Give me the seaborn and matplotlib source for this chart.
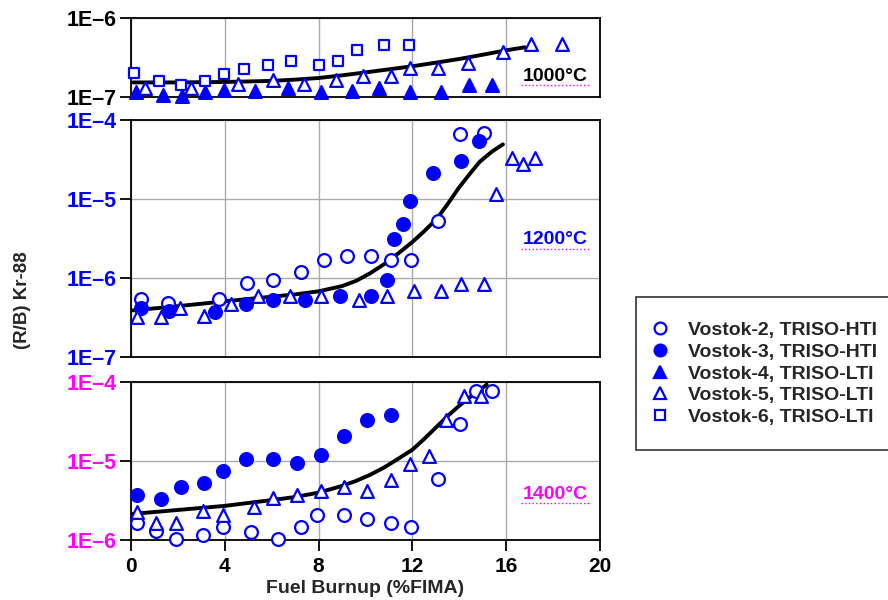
'''
Kr-88 release-rate-to-birth-rate ratio vs fuel burnup, three irradiation temperatures.
'''
import matplotlib
matplotlib.use('Agg')
import matplotlib.pyplot as plt
from matplotlib.lines import Line2D
import pandas as pd
import seaborn as sns

# ---- 1000 C ----
t1000_v4_x = [0.23, 1.37, 2.17, 3.16, 3.98, 5.28, 6.71, 8.09, 9.44, 10.58, 11.91, 13.23, 14.42, 15.4]
t1000_v4_y = [1.15e-7, 1.07e-7, 1.02e-7, 1.15e-7, 1.21e-7, 1.18e-7, 1.3e-7, 1.16e-7, 1.18e-7, 1.3e-7,
              1.15e-7, 1.15e-7, 1.43e-7, 1.43e-7]
t1000_v5_x = [0.58, 2.58, 4.55, 6.07, 7.37, 8.74, 9.89, 11.08, 11.91, 13.08, 14.39, 15.87, 17.04, 18.39]
t1000_v5_y = [1.3e-7, 1.3e-7, 1.47e-7, 1.66e-7, 1.47e-7, 1.66e-7, 1.86e-7, 1.86e-7, 2.35e-7, 2.35e-7,
              2.69e-7, 3.67e-7, 4.73e-7, 4.73e-7]
t1000_v6_x = [0.15, 1.18, 2.15, 3.16, 3.98, 4.83, 5.84, 6.83, 8.01, 8.83, 9.65, 10.8, 11.84]
t1000_v6_y = [2.0e-7, 1.58e-7, 1.42e-7, 1.6e-7, 1.97e-7, 2.26e-7, 2.54e-7, 2.83e-7, 2.52e-7, 2.83e-7,
              3.97e-7, 4.5e-7, 4.5e-7]
t1000_fit_x = [0.1, 2, 4, 6, 7, 8, 9, 10, 11, 12, 13, 14, 15, 16, 16.8]
t1000_fit_y = [1.53e-7, 1.53e-7, 1.55e-7, 1.6e-7, 1.66e-7, 1.74e-7, 1.88e-7, 2.05e-7, 2.24e-7, 2.45e-7,
               2.72e-7, 3.03e-7, 3.43e-7, 3.9e-7, 4.26e-7]

# ---- 1200 C ----
t1200_v2_x = [0.42, 1.58, 3.76, 4.95, 6.07, 7.25, 8.25, 9.23, 10.23, 11.08, 11.93, 13.08, 14.05, 15.05]
t1200_v2_y = [5.36e-7, 4.78e-7, 5.36e-7, 8.65e-7, 9.45e-7, 1.19e-6, 1.68e-6, 1.9e-6, 1.9e-6, 1.68e-6,
              1.68e-6, 5.28e-6, 6.71e-5, 6.84e-5]
t1200_v3_x = [0.42, 1.61, 3.58, 4.92, 6.07, 7.4, 8.92, 10.23, 10.9, 11.23, 11.61, 11.91, 12.88, 14.07, 14.84]
t1200_v3_y = [4.2e-7, 3.78e-7, 3.7e-7, 4.63e-7, 5.21e-7, 5.26e-7, 5.91e-7, 5.91e-7, 9.33e-7, 3.09e-6,
              4.8e-6, 9.48e-6, 2.13e-5, 3.05e-5, 5.42e-5]
t1200_v5_x = [0.27, 1.26, 2.09, 3.1, 4.25, 5.43, 6.77, 8.09, 9.74, 10.9, 12.06, 13.23, 14.08, 15.05,
              15.57, 16.24, 16.72, 17.22]
t1200_v5_y = [3.2e-7, 3.2e-7, 4.17e-7, 3.3e-7, 4.63e-7, 5.91e-7, 5.91e-7, 5.91e-7, 5.31e-7, 5.91e-7,
              6.77e-7, 6.77e-7, 8.47e-7, 8.47e-7, 1.17e-5, 3.33e-5, 2.74e-5, 3.33e-5]
t1200_fit_x = [0.08, 2, 3.98, 6, 7, 8.0, 9, 9.6, 10.2, 10.8, 11.4, 12.0, 12.5, 13.05, 13.5, 13.96,
               14.4, 14.87, 15.4, 15.86]
t1200_fit_y = [3.89e-7, 4.4e-7, 5.06e-7, 5.8e-7, 6.2e-7, 6.78e-7, 7.9e-7, 9.2e-7, 1.15e-6, 1.5e-6,
               2.05e-6, 2.86e-6, 3.9e-6, 5.66e-6, 8.6e-6, 1.36e-5, 2.0e-5, 2.96e-5, 4.0e-5, 4.91e-5]

# ---- 1400 C ----
t1400_v2_x = [0.24, 1.06, 1.91, 3.07, 3.92, 5.1, 6.25, 7.25, 7.92, 9.07, 10.08, 11.08, 11.93, 13.08,
              14.05, 14.72, 15.39]
t1400_v2_y = [1.66e-6, 1.31e-6, 1.04e-6, 1.17e-6, 1.48e-6, 1.25e-6, 1.04e-6, 1.48e-6, 2.07e-6, 2.07e-6,
              1.85e-6, 1.66e-6, 1.48e-6, 5.94e-6, 2.96e-5, 7.62e-5, 7.62e-5]
t1400_v3_x = [0.24, 1.27, 2.12, 3.1, 3.92, 4.92, 6.07, 7.07, 8.09, 9.07, 10.08, 11.08]
t1400_v3_y = [3.72e-6, 3.34e-6, 4.66e-6, 5.24e-6, 7.5e-6, 1.06e-5, 1.06e-5, 9.4e-6, 1.19e-5, 2.08e-5,
              3.33e-5, 3.78e-5]
t1400_v5_x = [0.24, 1.06, 1.91, 3.07, 3.92, 5.25, 6.07, 7.07, 8.09, 9.07, 10.08, 11.08, 11.91, 12.72,
              13.43, 14.22, 14.93]
t1400_v5_y = [2.29e-6, 1.66e-6, 1.66e-6, 2.36e-6, 2.07e-6, 2.65e-6, 3.38e-6, 3.72e-6, 4.19e-6, 4.66e-6,
              4.19e-6, 5.77e-6, 9.2e-6, 1.16e-5, 3.27e-5, 6.71e-5, 6.71e-5]
t1400_fit_x = [0.08, 2, 3.98, 6, 7, 8, 9, 9.6, 10.2, 10.8, 11.4, 12, 12.5, 13.05, 13.5, 13.96, 14.5, 15.17]
t1400_fit_y = [2.14e-6, 2.4e-6, 2.7e-6, 3.2e-6, 3.5e-6, 3.98e-6, 4.84e-6, 5.6e-6, 6.7e-6, 8.3e-6,
               1.07e-5, 1.39e-5, 1.9e-5, 2.74e-5, 3.7e-5, 4.91e-5, 6.6e-5, 9.25e-5]

series_labels = ['Vostok-2, TRISO-HTI', 'Vostok-3, TRISO-HTI', 'Vostok-4, TRISO-LTI',
                 'Vostok-5, TRISO-LTI', 'Vostok-6, TRISO-LTI']
panel_temps = ['1000°C', '1200°C', '1400°C']
x_ticks = [0, 4, 8, 12, 16, 20]

BLUE = '#0000FF'
MAGENTA = '#FF00FF'
styles = {
    'Vostok-2, TRISO-HTI': dict(marker='o', facecolor='white', s=85),
    'Vostok-3, TRISO-HTI': dict(marker='o', facecolor=BLUE, s=85),
    'Vostok-4, TRISO-LTI': dict(marker='^', facecolor=BLUE, s=85),
    'Vostok-5, TRISO-LTI': dict(marker='^', facecolor='white', s=85),
    'Vostok-6, TRISO-LTI': dict(marker='s', facecolor='white', s=55),
}

panels = [
    dict(temp=panel_temps[0], ylim=(1e-7, 1e-6), yticks=[1e-7, 1e-6], labels=['1E–7', '1E–6'],
         tick_color='black', text_color='black', text_y=0.26, line_y=0.155,
         series=[(series_labels[2], t1000_v4_x, t1000_v4_y),
                 (series_labels[3], t1000_v5_x, t1000_v5_y),
                 (series_labels[4], t1000_v6_x, t1000_v6_y)],
         fit=(t1000_fit_x, t1000_fit_y),
         rect=[0.1475, 0.8383, 0.5282, 0.1317]),
    dict(temp=panel_temps[1], ylim=(1e-7, 1e-4), yticks=[1e-7, 1e-6, 1e-5, 1e-4],
         labels=['1E–7', '1E–6', '1E–5', '1E–4'],
         tick_color=BLUE, text_color=BLUE, text_y=0.494, line_y=0.456,
         series=[(series_labels[0], t1200_v2_x, t1200_v2_y),
                 (series_labels[1], t1200_v3_x, t1200_v3_y),
                 (series_labels[3], t1200_v5_x, t1200_v5_y)],
         fit=(t1200_fit_x, t1200_fit_y),
         rect=[0.1475, 0.405, 0.5282, 0.395]),
    dict(temp=panel_temps[2], ylim=(1e-6, 1e-4), yticks=[1e-6, 1e-5, 1e-4], labels=['1E–6', '1E–5', '1E–4'],
         tick_color=MAGENTA, text_color=MAGENTA, text_y=0.285, line_y=0.234,
         series=[(series_labels[0], t1400_v2_x, t1400_v2_y),
                 (series_labels[1], t1400_v3_x, t1400_v3_y),
                 (series_labels[3], t1400_v5_x, t1400_v5_y)],
         fit=(t1400_fit_x, t1400_fit_y),
         rect=[0.1475, 0.10, 0.5282, 0.2633]),
]

sns.set_theme(style='white')
plt.rcParams['font.family'] = ['Liberation Sans', 'DejaVu Sans']
plt.rcParams['font.weight'] = 'bold'

fig = plt.figure(figsize=(8.88, 6.0), dpi=100)
axes = []
for i, p in enumerate(panels):
    ax = fig.add_axes(p['rect'])
    axes.append(ax)
    fit_df = pd.DataFrame({'x': p['fit'][0], 'y': p['fit'][1]})
    sns.lineplot(data=fit_df, x='x', y='y', ax=ax, color='black', linewidth=2.8,
                 sort=False, legend=False, zorder=3)
    for name, xs, ys in p['series']:
        st = styles[name]
        df = pd.DataFrame({'x': xs, 'y': ys})
        sns.scatterplot(data=df, x='x', y='y', ax=ax, marker=st['marker'], s=st['s'],
                        facecolor=st['facecolor'], edgecolor=BLUE, linewidth=1.6,
                        legend=False, zorder=4, clip_on=False)
    ax.set_yscale('log')
    ax.set_xlim(0, 20)
    ax.set_ylim(*p['ylim'])
    ax.set_yticks(p['yticks'])
    ax.set_yticklabels(p['labels'])
    ax.minorticks_off()
    ax.set_xticks(x_ticks)
    ax.grid(True, which='major', color='#aaaaaa', linewidth=1.0)
    for sp in ax.spines.values():
        sp.set_color('black')
        sp.set_linewidth(1.3)
    ax.tick_params(axis='y', which='major', direction='out', length=8, width=1.3,
                   color='black', labelsize=15.5, labelcolor=p['tick_color'], pad=2, left=True)
    if i < 2:
        ax.tick_params(axis='x', bottom=False, labelbottom=False)
    else:
        ax.tick_params(axis='x', direction='out', length=8, width=1.3, color='black',
                       labelsize=15, labelcolor='black', pad=4, bottom=True)
    ax.set_xlabel('')
    ax.set_ylabel('')
    # temperature tag with dotted underline
    ax.text(0.905, p['text_y'], p['temp'], transform=ax.transAxes, ha='center', va='center',
            fontsize=14, fontweight='bold', color=p['text_color'])
    ax.plot([0.832, 0.979], [p['line_y'], p['line_y']],
            transform=ax.transAxes, color=MAGENTA, linestyle=':', linewidth=1.0, clip_on=False)

axes[2].set_xlabel('Fuel Burnup (%FIMA)', fontsize=14, fontweight='bold', labelpad=3)
fig.text(0.025, 0.50, '(R/B) Kr-88', rotation=90, ha='center', va='center',
         fontsize=13.5, fontweight='bold')

handles = [Line2D([], [], linestyle='none', marker=styles[n]['marker'],
                  markersize=8.5 if styles[n]['marker'] != 's' else 7.5,
                  markerfacecolor=styles[n]['facecolor'], markeredgecolor=BLUE,
                  markeredgewidth=1.6) for n in series_labels]
leg = fig.legend(handles, series_labels, loc='center left', bbox_to_anchor=(0.716, 0.377),
                 frameon=True, fancybox=False, edgecolor='black', borderaxespad=0,
                 prop={'weight': 'bold', 'size': 14}, labelspacing=0.21,
                 handletextpad=1.4, borderpad=1.26, handlelength=0.0)
leg.get_frame().set_linewidth(1.2)

fig.savefig('out.png', dpi=100)
